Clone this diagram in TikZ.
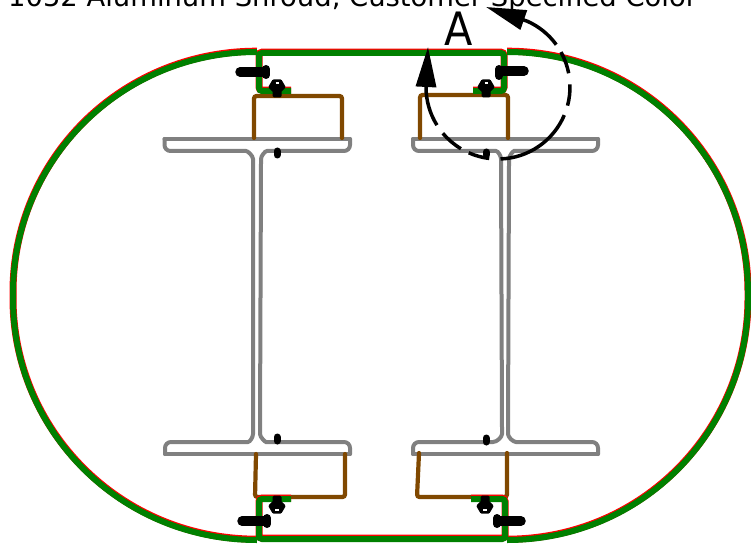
\documentclass[tikz,border=0pt]{standalone}
\usepackage{fontspec}
\setmainfont{DejaVu Sans}
\usetikzlibrary{arrows.meta}
\definecolor{shroud}{RGB}{0,128,0}
\definecolor{wood}{RGB}{128,72,0}
\definecolor{beam}{RGB}{128,128,128}
\tikzset{
  greenline/.style={draw=shroud,line width=6pt,rounded corners=3pt},
  redline/.style={draw=red,line width=7pt,rounded corners=3pt},
  beamline/.style={draw=beam,line width=4pt,rounded corners=6pt,line cap=round},
  beamtop/.style={draw=beam,line width=4pt,line cap=round},
  woodline/.style={draw=wood,line width=4.2pt,rounded corners=2.5pt,line cap=round},
  stud/.style={draw=black,line width=7pt,line cap=round},
  shank/.style={draw=black,line width=9.5pt,line cap=round},
  bolthead/.style={draw=black,line width=8pt,line cap=round},
  rivet/.style={fill=black,draw=black,line width=3pt,line join=round},
  slot/.style={draw=white,line width=1.5pt},
  leader/.style={draw=black,line width=3.5pt},
  bighead/.style={-{Triangle[length=40pt,width=20pt]}},
}
\newcommand{\ShellPaths}[1]{%
  \path[#1] (257,52) .. controls (120,52) and (13,161) .. (13,296) .. controls (13,431) and (120,540) .. (257,540);
  \path[#1] (507,52) .. controls (642,52) and (748,161) .. (748,296) .. controls (748,431) and (642,540) .. (507,540);
  \path[#1] (291,91) -- (259,91) -- (259,53) -- (504,53) -- (504,91) -- (473,91);
  \path[#1] (291,499) -- (259,499) -- (259,539) -- (505,539) -- (505,499) -- (471,499);
}
\newcommand{\Rivet}[2]{%
  \path[rivet] (#1-3.5,#2) -- (#1+3.5,#2) -- (#1+7,#2+6) -- (#1+3,#2+10) -- (#1+3,#2+15) -- (#1-3,#2+15) -- (#1-3,#2+10) -- (#1-7,#2+6) -- cycle;
  \draw[slot] (#1-1.5,#2+2) -- (#1+1.5,#2+2);
}
\newcommand{\RivetUp}[2]{%
  \path[rivet] (#1-3,#2) -- (#1+3,#2) -- (#1+3,#2+5) -- (#1+7,#2+9) -- (#1+3.5,#2+15) -- (#1-3.5,#2+15) -- (#1-7,#2+9) -- (#1-3,#2+5) -- cycle;
  \draw[slot] (#1-2,#2+13) -- (#1+2,#2+13);
}
\begin{document}
\begin{tikzpicture}[x=1pt,y=-1pt]
\useasboundingbox (0,0) rectangle (751,548);
\clip (0,0) rectangle (751,548);
\node[anchor=base west,inner sep=0pt,font=\fontsize{27.4}{27.4}\selectfont] (title) at (8,6.5) {1052 Aluminum Shroud, Customer Specified Color};
\node[anchor=base,inner sep=0pt,font=\fontsize{46}{46}\selectfont,xscale=.9] (viewA) at (458.5,46) {A};

% I-beams
\draw[beamtop] (164.5,139) -- (350,139);
\draw[beamline] (164.5,139) -- (164.5,151) -- (240,151) .. controls (248,151) and (253,156) .. (253,165) -- (253,428) .. controls (253,437) and (250,442) .. (242,442) -- (165,442) -- (165,454);
\draw[beamline] (350,139) -- (350,151) -- (273,151) .. controls (265,151) and (261,156) .. (261,165) -- (260,428) .. controls (260,437) and (265,442) .. (272,442) -- (350,442) -- (350,454);
\draw[beamtop] (165,454) -- (350,454);
\draw[beamtop] (413,139) -- (598,139);
\draw[beamline] (413,139) -- (413,151) -- (490,151) .. controls (498,151) and (501,156) .. (501,165) -- (502,428) .. controls (502,437) and (497,442) .. (487,442) -- (413,442) -- (413,454);
\draw[beamline] (598,139) -- (598,151) -- (520,151) .. controls (513,151) and (509,156) .. (509,165) -- (508,428) .. controls (508,437) and (513,442) .. (522,442) -- (598,442) -- (598,454);
\draw[beamtop] (413,454) -- (598,454);

% wood blocks
\draw[woodline] (254,138) -- (254,96) -- (342,96) -- (342,138);
\draw[woodline] (420,138) -- (420,95) -- (508,95) -- (508,138);
\draw[woodline] (256,454) -- (255,497) -- (345,497) -- (345,454);
\draw[woodline] (419,453) -- (417,497) -- (507,497) -- (507,453);

% shroud
\begin{scope}[shift={(0,-0.8)}]\ShellPaths{redline}\end{scope}
\ShellPaths{greenline}

% studs on flanges
\draw[stud] (277,151) -- (277,155);
\draw[stud] (486,152) -- (486,155);
\draw[stud] (277,437) -- (277,441);
\draw[stud] (486,438) -- (486,442);

% horizontal bolts
\draw[shank] (240,72) -- (262,72);
\draw[bolthead] (266,69) -- (266,75);
\draw[shank] (500,71) -- (524,71);
\draw[bolthead] (499,69) -- (499,76);
\draw[shank] (242,521) -- (265,521);
\draw[bolthead] (267,518) -- (267,524);
\draw[shank] (498,521) -- (521,521);
\draw[bolthead] (497,518) -- (497,524);

% vertical rivets
\Rivet{277}{81}
\Rivet{486}{81}
\RivetUp{277}{497}
\RivetUp{485}{497}

% view A circle
\coordinate (detailc) at (498,87);
\coordinate (tipA) at (428,47);
\coordinate (tipB) at (486,7);
\draw[leader,bighead] ([shift={(148:72)}]detailc) arc[start angle=148,end angle=180,radius=72] -- (tipA);
\draw[leader] ([shift={(140:72)}]detailc) arc[start angle=140,end angle=121,radius=72];
\draw[leader] ([shift={(114:72)}]detailc) arc[start angle=114,end angle=97,radius=72];
\draw[leader] ([shift={(88:72)}]detailc) arc[start angle=88,end angle=23,radius=72];
\draw[leader] ([shift={(15:72)}]detailc) arc[start angle=15,end angle=-2,radius=72];
\draw[leader] ([shift={(-11:72)}]detailc) arc[start angle=-11,end angle=-29,radius=72];
\draw[leader,bighead] ([shift={(-36:72)}]detailc) arc[start angle=-36,end angle=-66,radius=72] -- (tipB);
\end{tikzpicture}
\end{document}
